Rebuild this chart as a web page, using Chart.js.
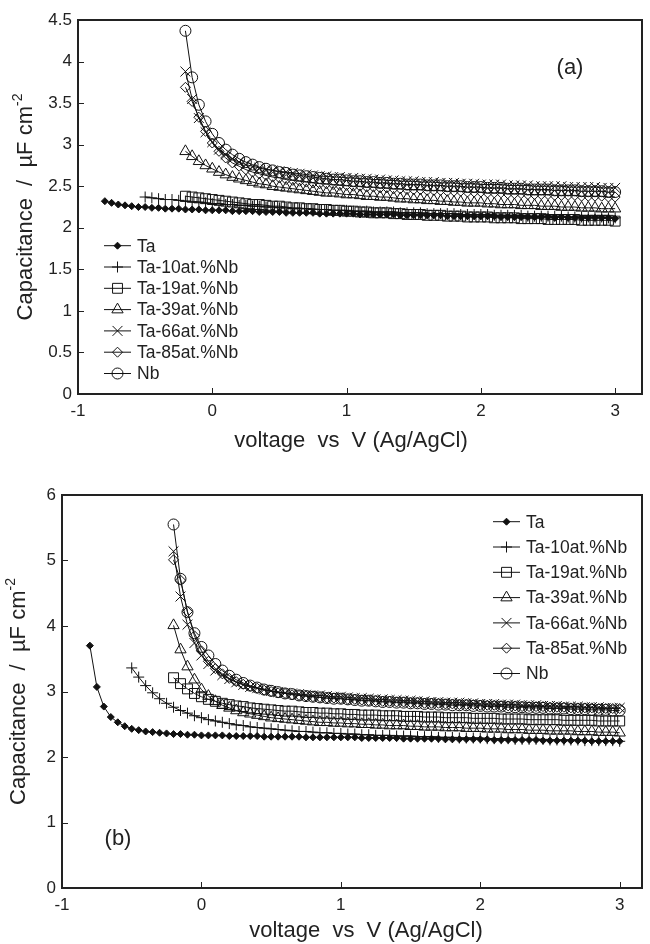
<!DOCTYPE html>
<html>
<head>
<meta charset="utf-8">
<script src="https://cdn.jsdelivr.net/npm/chart.js@4.4.0/dist/chart.umd.min.js"></script>
<style>
    html, body { margin: 0; padding: 0; background: #fff; }
    #wrapA { position: absolute; left: 0; top: 0; width: 650px; height: 470px; }
    #wrapB { position: absolute; left: 0; top: 470px; width: 650px; height: 474px; }
</style>
</head>
<body>
<div id="wrapA"><canvas id="chartA" width="650" height="470"></canvas></div>
<div id="wrapB"><canvas id="chartB" width="650" height="474"></canvas></div>
<script>
// voltage steps (V vs Ag/AgCl); every series ends at 3 V and uses the tail of this list
const voltages = [-0.8,-0.75,-0.7,-0.65,-0.6,-0.55,-0.5,-0.45,-0.4,-0.35,-0.3,-0.25,-0.2,-0.15,-0.1,-0.05,0,
    0.05,0.1,0.15,0.2,0.25,0.3,0.35,0.4,0.45,0.5,0.55,0.6,0.65,0.7,0.75,0.8,0.85,0.9,0.95,1,
    1.05,1.1,1.15,1.2,1.25,1.3,1.35,1.4,1.45,1.5,1.55,1.6,1.65,1.7,1.75,1.8,1.85,1.9,1.95,2,
    2.05,2.1,2.15,2.2,2.25,2.3,2.35,2.4,2.45,2.5,2.55,2.6,2.65,2.7,2.75,2.8,2.85,2.9,2.95,3];

const seriesNames = ['Ta', 'Ta-10at.%Nb', 'Ta-19at.%Nb', 'Ta-39at.%Nb', 'Ta-66at.%Nb', 'Ta-85at.%Nb', 'Nb'];

const xTicks = [-1, 0, 1, 2, 3];
const yTicksA = [0, 0.5, 1, 1.5, 2, 2.5, 3, 3.5, 4, 4.5];
const yTicksB = [0, 1, 2, 3, 4, 5, 6];

// ---- panel (a) capacitance, uF cm-2 ----
const taA = [2.32,2.30,2.28,2.27,2.26,2.25,2.25,2.24,2.24,2.23,2.23,2.23,2.22,2.22,2.22,2.21,2.21,
    2.21,2.21,2.20,2.20,2.20,2.20,2.19,2.19,2.19,2.19,2.18,2.18,2.18,2.18,2.18,2.17,2.17,2.17,2.17,2.17,
    2.17,2.16,2.16,2.16,2.16,2.16,2.16,2.15,2.15,2.15,2.15,2.15,2.15,2.15,2.14,2.14,2.14,2.14,2.14,2.14,
    2.14,2.14,2.13,2.13,2.13,2.13,2.13,2.13,2.13,2.13,2.12,2.13,2.12,2.12,2.12,2.12,2.12,2.12,2.12,2.11];
const ta10A = [2.37,2.36,2.35,2.34,2.34,2.33,2.32,2.31,2.31,2.30,2.29,
    2.29,2.28,2.28,2.27,2.27,2.26,2.26,2.25,2.25,2.24,2.24,2.23,2.23,2.23,2.22,2.22,2.22,2.21,2.21,2.21,
    2.20,2.20,2.20,2.19,2.19,2.19,2.19,2.18,2.18,2.18,2.18,2.17,2.17,2.17,2.17,2.17,2.16,2.16,2.16,2.16,
    2.16,2.15,2.15,2.15,2.15,2.15,2.14,2.14,2.14,2.14,2.14,2.14,2.13,2.13,2.13,2.13,2.13,2.13,2.12,2.12];
const ta19A = [2.38,2.37,2.36,2.35,2.34,
    2.33,2.32,2.31,2.30,2.29,2.28,2.28,2.27,2.26,2.26,2.25,2.24,2.24,2.23,2.23,2.22,2.22,2.21,2.21,2.20,
    2.20,2.19,2.19,2.18,2.18,2.18,2.17,2.17,2.16,2.16,2.16,2.15,2.15,2.15,2.14,2.14,2.14,2.13,2.13,2.13,
    2.13,2.12,2.12,2.12,2.12,2.11,2.11,2.11,2.11,2.10,2.10,2.10,2.10,2.10,2.09,2.09,2.09,2.09,2.09,2.08];
const ta39A = [2.92,2.86,2.80,2.75,2.71,
    2.67,2.64,2.61,2.59,2.57,2.55,2.53,2.52,2.50,2.49,2.48,2.47,2.46,2.45,2.44,2.43,2.42,2.42,2.41,2.40,
    2.40,2.39,2.38,2.38,2.37,2.37,2.36,2.35,2.35,2.34,2.34,2.33,2.33,2.32,2.32,2.31,2.31,2.30,2.30,2.30,
    2.29,2.29,2.28,2.28,2.28,2.27,2.27,2.27,2.26,2.26,2.26,2.25,2.25,2.25,2.24,2.24,2.24,2.23,2.23,2.23];
const ta66A = [3.88,3.55,3.32,3.15,3.03,
    2.94,2.88,2.83,2.79,2.76,2.74,2.72,2.70,2.69,2.68,2.67,2.66,2.65,2.64,2.63,2.62,2.62,2.61,2.61,2.60,
    2.60,2.59,2.59,2.58,2.58,2.57,2.57,2.56,2.56,2.56,2.55,2.55,2.55,2.54,2.54,2.54,2.53,2.53,2.53,2.52,
    2.52,2.52,2.52,2.51,2.51,2.51,2.51,2.50,2.50,2.50,2.50,2.50,2.49,2.49,2.49,2.49,2.49,2.48,2.48,2.48];
const ta85A = [3.69,3.52,3.33,3.16,3.02,
    2.92,2.84,2.78,2.74,2.70,2.67,2.65,2.63,2.61,2.60,2.58,2.57,2.56,2.55,2.54,2.53,2.53,2.52,2.51,2.51,
    2.50,2.50,2.49,2.49,2.48,2.48,2.47,2.47,2.46,2.46,2.46,2.45,2.45,2.45,2.44,2.44,2.44,2.43,2.43,2.43,
    2.42,2.42,2.42,2.41,2.41,2.41,2.40,2.40,2.40,2.40,2.39,2.39,2.39,2.39,2.38,2.38,2.38,2.38,2.37,2.37];
const nbA = [4.37,3.81,3.48,3.28,3.13,
    3.02,2.94,2.88,2.83,2.79,2.76,2.73,2.71,2.69,2.67,2.66,2.64,2.63,2.62,2.61,2.60,2.59,2.58,2.58,2.57,
    2.56,2.56,2.55,2.55,2.54,2.54,2.53,2.53,2.52,2.52,2.52,2.51,2.51,2.51,2.50,2.50,2.50,2.49,2.49,2.49,
    2.48,2.48,2.48,2.47,2.47,2.47,2.46,2.46,2.46,2.46,2.45,2.45,2.45,2.45,2.44,2.44,2.44,2.44,2.43,2.43];

// ---- panel (b) ----
const taB = [3.70,3.07,2.77,2.61,2.53,2.47,2.43,2.41,2.39,2.38,2.37,2.36,2.35,2.35,2.34,2.34,2.33,
    2.33,2.33,2.33,2.32,2.32,2.32,2.32,2.32,2.31,2.31,2.31,2.31,2.31,2.31,2.30,2.30,2.30,2.30,2.30,2.30,
    2.30,2.30,2.29,2.29,2.29,2.29,2.29,2.29,2.28,2.28,2.28,2.28,2.28,2.28,2.27,2.27,2.27,2.27,2.27,2.27,
    2.27,2.26,2.26,2.26,2.26,2.26,2.26,2.26,2.25,2.25,2.25,2.25,2.25,2.25,2.25,2.24,2.24,2.24,2.24,2.24];
const ta10B = [3.36,3.22,3.09,2.98,2.89,2.82,2.76,2.71,2.67,2.63,2.60,
    2.57,2.55,2.53,2.51,2.49,2.48,2.46,2.45,2.44,2.43,2.42,2.41,2.40,2.39,2.39,2.38,2.37,2.37,2.36,2.36,
    2.35,2.35,2.34,2.34,2.33,2.33,2.33,2.32,2.32,2.32,2.31,2.31,2.31,2.30,2.30,2.30,2.29,2.29,2.29,2.29,
    2.28,2.28,2.28,2.28,2.27,2.27,2.27,2.27,2.27,2.26,2.26,2.26,2.26,2.26,2.25,2.25,2.25,2.25,2.25,2.24];
const ta19B = [3.21,3.12,3.04,2.97,2.92,
    2.88,2.85,2.82,2.80,2.78,2.77,2.75,2.74,2.73,2.72,2.71,2.70,2.70,2.69,2.68,2.68,2.67,2.67,2.66,2.66,
    2.65,2.65,2.64,2.64,2.64,2.63,2.63,2.63,2.62,2.62,2.62,2.61,2.61,2.61,2.60,2.60,2.60,2.60,2.59,2.59,
    2.59,2.59,2.58,2.58,2.58,2.58,2.57,2.57,2.57,2.57,2.57,2.56,2.56,2.56,2.56,2.56,2.55,2.55,2.55,2.55];
const ta39B = [4.01,3.64,3.38,3.18,3.03,
    2.93,2.85,2.79,2.75,2.71,2.68,2.66,2.64,2.62,2.60,2.59,2.58,2.57,2.56,2.55,2.54,2.53,2.53,2.52,2.52,
    2.51,2.51,2.50,2.50,2.49,2.49,2.48,2.48,2.48,2.47,2.47,2.46,2.46,2.46,2.45,2.45,2.45,2.44,2.44,2.44,
    2.43,2.43,2.43,2.42,2.42,2.42,2.41,2.41,2.41,2.40,2.40,2.40,2.40,2.39,2.39,2.39,2.38,2.38,2.38,2.37];
const ta66B = [5.14,4.45,4.02,3.74,3.55,
    3.42,3.32,3.25,3.19,3.14,3.10,3.07,3.05,3.03,3.01,2.99,2.98,2.97,2.96,2.95,2.94,2.94,2.93,2.92,2.92,
    2.91,2.90,2.90,2.89,2.88,2.88,2.87,2.87,2.86,2.86,2.85,2.85,2.84,2.84,2.83,2.83,2.83,2.82,2.82,2.81,
    2.81,2.81,2.80,2.80,2.80,2.79,2.79,2.79,2.78,2.78,2.78,2.77,2.77,2.77,2.76,2.76,2.76,2.75,2.75,2.75];
const ta85B = [5.01,4.70,4.22,3.85,3.62,
    3.46,3.35,3.27,3.20,3.15,3.11,3.08,3.05,3.02,3.00,2.98,2.97,2.95,2.94,2.93,2.92,2.91,2.90,2.90,2.89,
    2.88,2.88,2.87,2.86,2.86,2.85,2.85,2.84,2.84,2.83,2.83,2.82,2.82,2.82,2.81,2.81,2.80,2.80,2.80,2.79,
    2.79,2.79,2.78,2.78,2.78,2.77,2.77,2.77,2.77,2.76,2.76,2.76,2.75,2.75,2.75,2.75,2.74,2.74,2.74,2.74];
const nbB = [5.55,4.72,4.21,3.89,3.68,
    3.55,3.42,3.32,3.24,3.18,3.13,3.09,3.06,3.03,3.01,2.99,2.97,2.96,2.94,2.93,2.92,2.91,2.90,2.89,2.89,
    2.88,2.87,2.86,2.86,2.85,2.84,2.84,2.83,2.83,2.82,2.82,2.81,2.81,2.80,2.80,2.79,2.79,2.79,2.78,2.78,
    2.77,2.77,2.77,2.76,2.76,2.76,2.75,2.75,2.75,2.74,2.74,2.74,2.73,2.73,2.73,2.72,2.72,2.72,2.71,2.71];

const FONT = '"Liberation Sans", Arial, sans-serif';
const INK = '#222';
const PLOT_RIGHT = 649;

// marker look for each series (same order as seriesNames)
const markers = [
    { pointStyle: 'rectRot', radius: 3.5, fill: '#111' },
    { pointStyle: 'cross', radius: 5.5, fill: 'rgba(0,0,0,0)' },
    { pointStyle: 'rect', radius: 7, fill: 'rgba(0,0,0,0)' },
    { pointStyle: 'triangle', radius: 6.5, fill: 'rgba(0,0,0,0)' },
    { pointStyle: 'crossRot', radius: 7, fill: 'rgba(0,0,0,0)' },
    { pointStyle: 'rectRot', radius: 5, fill: 'rgba(0,0,0,0)' },
    { pointStyle: 'circle', radius: 5.5, fill: 'rgba(0,0,0,0)' }
];

function toPoints(values) {
    const offset = voltages.length - values.length;
    return values.map((v, i) => ({ x: voltages[offset + i], y: v }));
}

// frame, inward ticks, axis titles, panel letter and legend
const decorPlugin = {
    id: 'decor',
    afterDraw(chart, args, o) {
        const ctx = chart.ctx;
        const a = chart.chartArea;
        const xs = chart.scales.x;
        const ys = chart.scales.y;
        ctx.save();

        ctx.strokeStyle = INK;
        ctx.lineWidth = 1;
        ctx.beginPath();
        xs.ticks.forEach(t => {
            const px = Math.round(xs.getPixelForValue(t.value)) + 0.5;
            ctx.moveTo(px, a.bottom);
            ctx.lineTo(px, a.bottom - 6);
        });
        ys.ticks.forEach(t => {
            const py = Math.round(ys.getPixelForValue(t.value)) + 0.5;
            ctx.moveTo(a.left, py);
            ctx.lineTo(a.left + 6, py);
        });
        ctx.stroke();

        ctx.lineWidth = 2;
        ctx.strokeRect(a.left, a.top, a.right - a.left, a.bottom - a.top);

        // panel letter
        ctx.fillStyle = INK;
        ctx.font = '22px ' + FONT;
        ctx.textAlign = 'center';
        ctx.textBaseline = 'middle';
        ctx.fillText(o.panel, o.panelX, o.panelY);

        // x title
        ctx.fillText('voltage  vs  V (Ag/AgCl)', o.xTitleX, o.xTitleY);

        // y title with superscript
        ctx.save();
        ctx.translate(o.yTitleX, (a.top + a.bottom) / 2);
        ctx.rotate(-Math.PI / 2);
        const main = 'Capacitance  /  \u00b5F cm';
        ctx.font = '22px ' + FONT;
        const wMain = ctx.measureText(main).width;
        ctx.font = '14px ' + FONT;
        const wSup = ctx.measureText('-2').width;
        const start = -(wMain + wSup) / 2;
        ctx.textAlign = 'left';
        ctx.font = '22px ' + FONT;
        ctx.fillText(main, start, 0);
        ctx.font = '14px ' + FONT;
        ctx.fillText('-2', start + wMain, -8);
        ctx.restore();

        // legend
        ctx.font = '17.5px ' + FONT;
        ctx.textAlign = 'left';
        chart.data.datasets.forEach((ds, i) => {
            const y = o.legendY + i * o.legendGap;
            ctx.strokeStyle = '#111';
            ctx.lineWidth = 1;
            ctx.beginPath();
            ctx.moveTo(o.legendX, y);
            ctx.lineTo(o.legendX + 27, y);
            ctx.stroke();
            ctx.fillStyle = ds.pointBackgroundColor;
            Chart.helpers.drawPoint(ctx, {
                pointStyle: ds.pointStyle,
                radius: ds.pointRadius,
                rotation: 0,
                borderWidth: 1
            }, o.legendX + 13.5, y);
            ctx.fillStyle = INK;
            ctx.fillText(ds.label, o.legendX + 33, y + 1);
        });

        ctx.restore();
    }
};

function buildChart(canvasId, seriesValues, yTicks, layout, decor) {
    const ctx = document.getElementById(canvasId).getContext('2d');
    const datasets = seriesValues.map((vals, i) => ({
        label: seriesNames[i],
        data: toPoints(vals),
        borderColor: '#111',
        borderWidth: 1,
        pointStyle: markers[i].pointStyle,
        pointRadius: markers[i].radius,
        pointBackgroundColor: markers[i].fill,
        pointBorderColor: '#111',
        pointBorderWidth: 1,
        showLine: true,
        tension: 0
    }));

    const chart = new Chart(ctx, {
        type: 'scatter',
        data: { datasets: datasets },
        options: {
            responsive: false,
            animation: false,
            events: [],
            layout: { padding: { top: layout.top, right: 1, left: 0, bottom: 0 } },
            scales: {
                x: {
                    type: 'linear',
                    min: -1,
                    max: layout.xMax,
                    grid: { display: false, drawTicks: false },
                    border: { display: false },
                    afterBuildTicks: s => { s.ticks = xTicks.map(v => ({ value: v })); },
                    afterFit: s => {
                        s.height = layout.xAxisHeight;
                        s.paddingLeft = 0;
                        s.paddingRight = 0;
                    },
                    ticks: {
                        padding: 7,
                        color: INK,
                        font: { family: FONT, size: 17 },
                        callback: v => String(v)
                    }
                },
                y: {
                    type: 'linear',
                    min: 0,
                    max: yTicks[yTicks.length - 1],
                    grid: { display: false, drawTicks: false },
                    border: { display: false },
                    afterBuildTicks: s => { s.ticks = yTicks.map(v => ({ value: v })); },
                    afterFit: s => {
                        s.width = layout.yAxisWidth;
                        s.paddingTop = 0;
                        s.paddingBottom = 0;
                    },
                    ticks: {
                        padding: 6,
                        color: INK,
                        font: { family: FONT, size: 17 },
                        callback: v => String(v)
                    }
                }
            },
            plugins: {
                legend: { display: false },
                tooltip: { enabled: false },
                decor: decor
            }
        },
        plugins: [decorPlugin]
    });

    // the layout keeps some room on the right; push the plot out to the frame edge
    const gap = PLOT_RIGHT - chart.chartArea.right;
    if (Math.abs(gap) > 0.5) {
        chart.options.layout.padding.right = 1 - gap;
        chart.update();
    }
    return chart;
}

buildChart('chartA', [taA, ta10A, ta19A, ta39A, ta66A, ta85A, nbA], yTicksA,
    { top: 20, xMax: 3.2, xAxisHeight: 76, yAxisWidth: 78 },
    { panel: '(a)', panelX: 570, panelY: 68, xTitleX: 351, xTitleY: 441, yTitleX: 26,
      legendX: 104, legendY: 245.7, legendGap: 21.3 });

buildChart('chartB', [taB, ta10B, ta19B, ta39B, ta66B, ta85B, nbB], yTicksB,
    { top: 25, xMax: 3.16, xAxisHeight: 56, yAxisWidth: 62 },
    { panel: '(b)', panelX: 118, panelY: 369, xTitleX: 366, xTitleY: 461, yTitleX: 19,
      legendX: 493, legendY: 51.7, legendGap: 25.3 });
</script>
</body>
</html>
